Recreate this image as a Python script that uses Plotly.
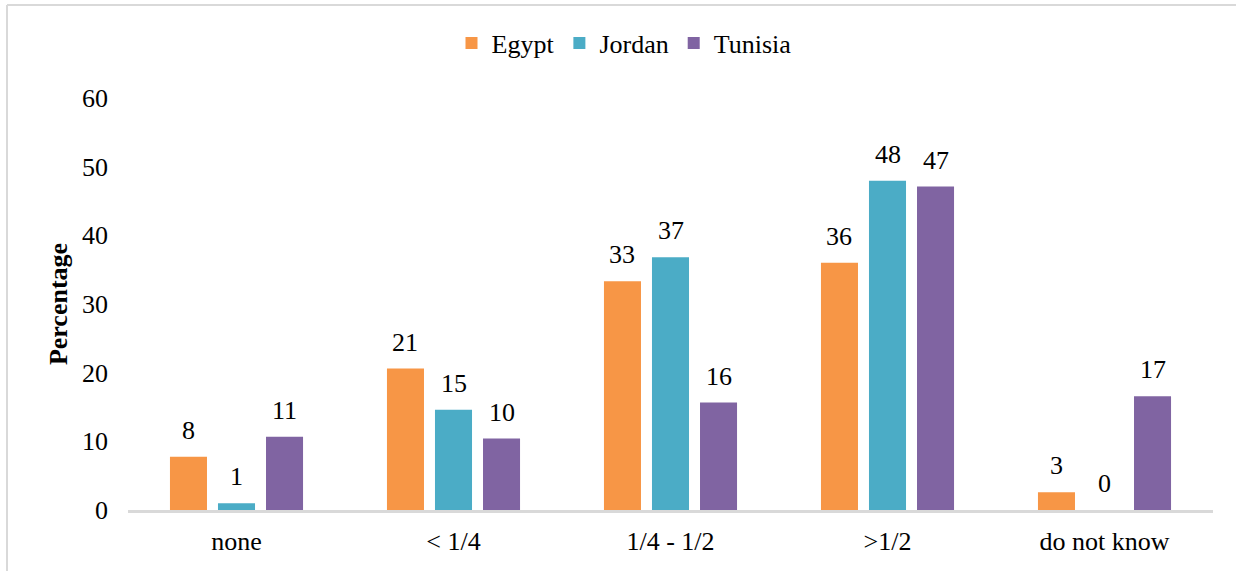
import plotly.graph_objects as go

categories = ["none", "< 1/4", "1/4 - 1/2", ">1/2", "do not know"]
egypt = [7.75, 20.6, 33.3, 36.0, 2.57]
jordan = [0.97, 14.6, 36.8, 47.96, 0.0]
tunisia = [10.65, 10.4, 15.65, 47.1, 16.57]
series_names = ["Egypt", "Jordan", "Tunisia"]
colors = ["#F79646", "#4BACC6", "#8064A2"]
y_ticks = [0, 10, 20, 30, 40, 50, 60]

FONT = "Liberation Serif, Times New Roman, serif"
FS = 26
BARGAP = 0.336
BARGROUPGAP = 0.229

W, H = 1236, 571
ML, MR, MT, MB = 128, 23, 98, 61

fig = go.Figure()
all_series = [egypt, jordan, tunisia]
for name, vals, col in zip(series_names, all_series, colors):
    fig.add_trace(go.Bar(name=name, x=categories, y=vals, marker=dict(color=col, line=dict(width=0))))

# data labels (outside end, like the original)
n = len(all_series)
slot = (1 - BARGAP) / n
annotations = []
for k, vals in enumerate(all_series):
    off = (k - (n - 1) / 2) * slot
    for i, v in enumerate(vals):
        annotations.append(dict(
            xref="x", yref="y", x=i + off, y=v, text=f"{v:.0f}",
            showarrow=False, yanchor="bottom", xanchor="center", yshift=10,
            font=dict(family=FONT, size=FS, color="#000000"),
        ))

pw = W - ML - MR
ph = H - MT - MB
def px_x(p):
    return (p - ML) / pw
def px_y(p):
    return (H - MB - p) / ph

shapes = [
    dict(type="line", xref="paper", yref="paper", x0=px_x(7), x1=px_x(1240), y0=px_y(5), y1=px_y(5),
         line=dict(color="#D9D9D9", width=2)),
    dict(type="line", xref="paper", yref="paper", x0=px_x(7), x1=px_x(7), y0=px_y(5), y1=px_y(575),
         line=dict(color="#D9D9D9", width=2)),
]

fig.update_layout(
    width=W, height=H,
    margin=dict(l=ML, r=MR, t=MT, b=MB, autoexpand=False),
    barmode="group", bargap=BARGAP, bargroupgap=BARGROUPGAP,
    paper_bgcolor="white", plot_bgcolor="white",
    font=dict(family=FONT, size=FS, color="#000000"),
    legend=dict(orientation="h", x=px_x(624), xanchor="center", y=px_y(43), yanchor="middle",
                font=dict(family=FONT, size=FS), itemwidth=30, traceorder="normal"),
    annotations=annotations,
    shapes=shapes,
    xaxis=dict(showline=True, linecolor="#D9D9D9", linewidth=3, showgrid=False, ticks="",
               tickfont=dict(family=FONT, size=FS), ticklabelstandoff=6),
    yaxis=dict(range=[0, 60], tickvals=y_ticks, showgrid=False, showline=False, zeroline=False,
               ticks="", tickfont=dict(family=FONT, size=FS), ticklabelstandoff=19,
               title=dict(text="<b>Percentage</b>", font=dict(family=FONT, size=FS), standoff=6)),
)

fig.write_html("out.html", config={"displayModeBar": False},
               post_script="document.body.style.margin='0';document.body.style.overflow='hidden';")
